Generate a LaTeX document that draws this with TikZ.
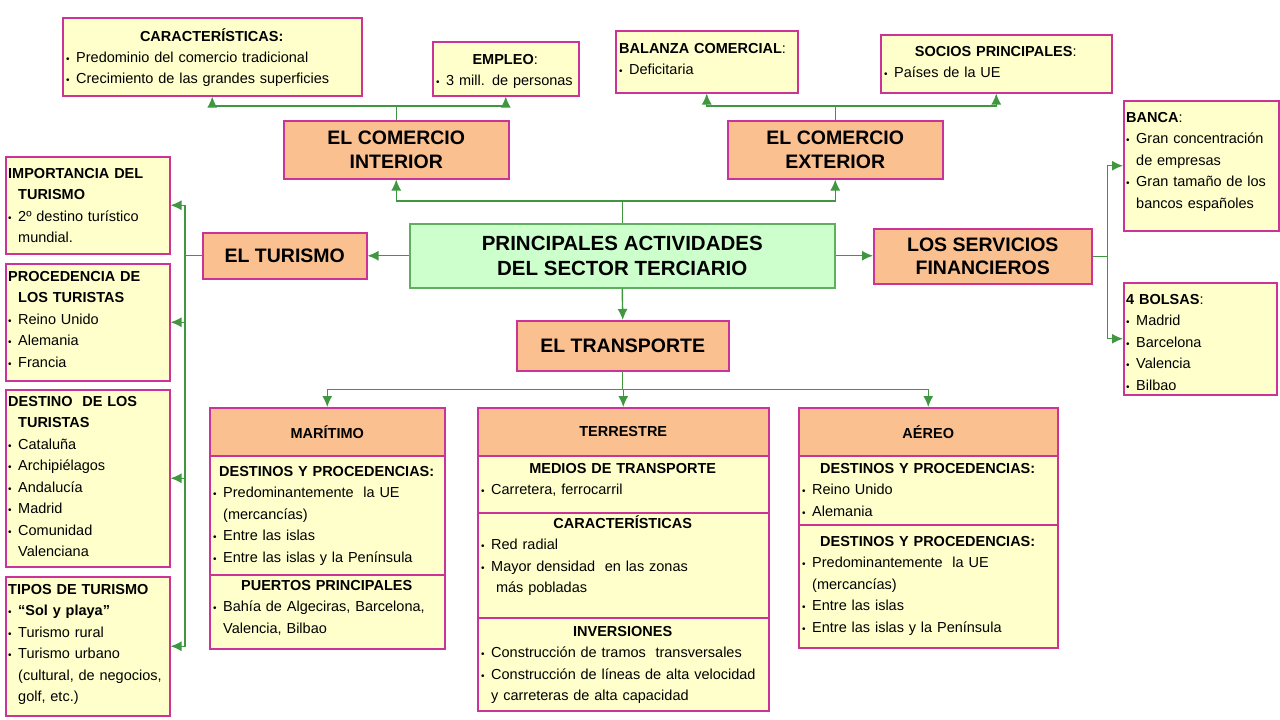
\documentclass[tikz,border=0pt]{standalone}
\usepackage{fontspec}
\setmainfont{Liberation Sans}
\usetikzlibrary{arrows.meta,positioning}
\definecolor{boxfill}{HTML}{FFFFCC}
\definecolor{boxline}{HTML}{CC3399}
\definecolor{orangefill}{HTML}{FAC090}
\definecolor{mainfill}{HTML}{CCFFCC}
\definecolor{mainline}{HTML}{5FAF5F}
\definecolor{linkgreen}{HTML}{3F973F}
\newcommand{\bul}{\makebox[10pt][l]{\fontsize{10}{10}\selectfont\textbullet}}
\newcommand{\ind}{\hspace*{10pt}}
\newcommand{\hd}[1]{\makebox[\linewidth]{\bfseries #1}}
\tikzset{
  infobox/.style={draw=boxline, fill=boxfill, line width=1.5pt, anchor=north west, inner sep=0pt},
  titlebox/.style={draw=boxline, fill=orangefill, line width=1.5pt, anchor=north west, inner sep=0pt,
    align=center, font=\fontsize{19.5}{23.5}\selectfont\bfseries},
  headbox/.style={titlebox, font=\fontsize{14.5}{17}\selectfont\bfseries},
  mainbox/.style={draw=mainline, fill=mainfill, line width=1.5pt, anchor=north west, inner sep=0pt,
    align=center, font=\fontsize{20.5}{25}\selectfont\bfseries},
  txt/.style={anchor=base west, inner sep=0pt, align=left, font=\fontsize{14.5}{21.5}\selectfont},
  link/.style={draw=linkgreen, line width=1.4pt},
  arr/.style={link, -{Latex[length=11pt,width=10pt]}}
}
\begin{document}
\begin{tikzpicture}[x=1pt,y=-1pt]
\useasboundingbox[fill=white] (0,0) rectangle (1280,720);

% centre and main branches
\node[mainbox, minimum width=425pt, minimum height=64pt] (centro) at (409,223) {PRINCIPALES ACTIVIDADES\\DEL SECTOR TERCIARIO};
\node[titlebox, minimum width=225pt, minimum height=58pt] (interior) at (283,120) {EL COMERCIO\\INTERIOR};
\node[titlebox, minimum width=215pt, minimum height=58pt] (exterior) at (727,120) {EL COMERCIO\\EXTERIOR};
\node[titlebox, minimum width=164pt, minimum height=46pt] (turismo) at (202,232) {EL TURISMO};
\node[titlebox, minimum width=218pt, minimum height=55pt] (servicios) at (873,228) {LOS SERVICIOS\\FINANCIEROS};
\node[titlebox, minimum width=212pt, minimum height=50pt] (transporte) at (516,320) {EL TRANSPORTE};

% comercio interior
\node[infobox, minimum width=299pt, minimum height=78pt] (caract) at (62,17) {};
\node[txt, text width=291pt] (caract-t) at (66,41) {\hd{CARACTERÍSTICAS:}\\
  \bul Predominio del comercio tradicional\\
  \bul Crecimiento de las grandes superficies};
\node[infobox, minimum width=146pt, minimum height=54pt] (empleo) at (432,41) {};
\node[txt, text width=138pt] (empleo-t) at (436,64) {\hd{EMPLEO{\mdseries:}}\\
  \bul 3 mill. de personas};

% comercio exterior
\node[infobox, minimum width=182pt, minimum height=62pt] (balanza) at (615,30) {};
\node[txt, text width=174pt] (balanza-t) at (619,53) {{\bfseries BALANZA COMERCIAL}:\\
  \bul Deficitaria};
\node[infobox, minimum width=231pt, minimum height=58pt] (socios) at (880,34) {};
\node[txt, text width=223pt] (socios-t) at (884,56) {\hd{SOCIOS PRINCIPALES{\mdseries:}}\\
  \bul Países de la UE};

% turismo
\node[infobox, minimum width=164pt, minimum height=97pt] (importancia) at (5,156) {};
\node[txt, text width=158pt] (importancia-t) at (8,178) {{\bfseries IMPORTANCIA DEL}\\
  \ind{\bfseries TURISMO}\\
  \bul 2º destino turístico\\
  \ind mundial.};
\node[infobox, minimum width=164pt, minimum height=117pt] (procedencia) at (5,263) {};
\node[txt, text width=158pt] (procedencia-t) at (8,281) {{\bfseries PROCEDENCIA DE}\\
  \ind{\bfseries LOS TURISTAS}\\
  \bul Reino Unido\\
  \bul Alemania\\
  \bul Francia};
\node[infobox, minimum width=164pt, minimum height=177pt] (destino) at (5,389) {};
\node[txt, text width=158pt] (destino-t) at (8,406) {{\bfseries DESTINO\ \ DE LOS}\\
  \ind{\bfseries TURISTAS}\\
  \bul Cataluña\\
  \bul Archipiélagos\\
  \bul Andalucía\\
  \bul Madrid\\
  \bul Comunidad\\
  \ind Valenciana};
\node[infobox, minimum width=164pt, minimum height=139pt] (tipos) at (5,576) {};
\node[txt, text width=158pt] (tipos-t) at (8,594) {{\bfseries TIPOS DE TURISMO}\\
  \bul{\bfseries “Sol y playa”}\\
  \bul Turismo rural\\
  \bul Turismo urbano\\
  \ind(cultural, de negocios,\\
  \ind golf, etc.)};

% servicios financieros
\node[infobox, minimum width=155pt, minimum height=130pt] (banca) at (1123,100) {};
\node[txt, text width=150pt] (banca-t) at (1126,122) {{\bfseries BANCA}:\\
  \bul Gran concentración\\
  \ind de empresas\\
  \bul Gran tamaño de los\\
  \ind bancos españoles};
\node[infobox, minimum width=153pt, minimum height=112pt] (bolsas) at (1123,282) {};
\node[txt, text width=148pt] (bolsas-t) at (1126,304) {{\bfseries 4 BOLSAS}:\\
  \bul Madrid\\
  \bul Barcelona\\
  \bul Valencia\\
  \bul Bilbao};

% transporte: maritimo
\node[headbox, minimum width=235pt, minimum height=48pt] (maritimo) at (209,407) {MARÍTIMO};
\node[infobox, minimum width=235pt, minimum height=119pt] (mar1) at (209,455) {};
\node[txt, text width=227pt] (mar1-t) at (213,476) {\hd{DESTINOS Y PROCEDENCIAS:}\\
  \bul Predominantemente\ \ la UE\\
  \ind(mercancías)\\
  \bul Entre las islas\\
  \bul Entre las islas y la Península};
\node[infobox, minimum width=235pt, minimum height=74pt] (mar2) at (209,574) {};
\node[txt, text width=227pt] (mar2-t) at (213,590) {\hd{PUERTOS PRINCIPALES}\\
  \bul Bahía de Algeciras, Barcelona,\\
  \ind Valencia, Bilbao};

% transporte: terrestre
\node[headbox, minimum width=291pt, minimum height=48pt] (terrestre) at (477,407) {TERRESTRE};
\node[infobox, minimum width=291pt, minimum height=57pt] (ter1) at (477,455) {};
\node[txt, text width=283pt] (ter1-t) at (481,473) {\hd{MEDIOS DE TRANSPORTE}\\
  \bul Carretera, ferrocarril};
\node[infobox, minimum width=291pt, minimum height=105pt] (ter2) at (477,512) {};
\node[txt, text width=283pt] (ter2-t) at (481,528) {\hd{CARACTERÍSTICAS}\\
  \bul Red radial\\
  \bul Mayor densidad\ \ en las zonas\\
  \ind\ más pobladas};
\node[infobox, minimum width=291pt, minimum height=93pt] (ter3) at (477,617) {};
\node[txt, text width=283pt] (ter3-t) at (481,636) {\hd{INVERSIONES}\\
  \bul Construcción de tramos\ \ transversales\\
  \bul Construcción de líneas de alta velocidad\\
  \ind y carreteras de alta capacidad};

% transporte: aereo
\node[headbox, minimum width=259pt, minimum height=48pt] (aereo) at (798,407) {AÉREO};
\node[infobox, minimum width=259pt, minimum height=69pt] (aer1) at (798,455) {};
\node[txt, text width=251pt] (aer1-t) at (802,473) {\hd{DESTINOS Y PROCEDENCIAS:}\\
  \bul Reino Unido\\
  \bul Alemania};
\node[infobox, minimum width=259pt, minimum height=123pt] (aer2) at (798,524) {};
\node[txt, text width=251pt] (aer2-t) at (802,546) {\hd{DESTINOS Y PROCEDENCIAS:}\\
  \bul Predominantemente\ \ la UE\\
  \ind(mercancías)\\
  \bul Entre las islas\\
  \bul Entre las islas y la Península};

% connectors
\draw[arr] (centro.north) -- ++(0,-22) -| (interior.south);
\draw[arr] (centro.north) ++(0,-22) -| (exterior.south);
\draw[arr] (centro.west) -- (centro.west -| turismo.east);
\draw[arr] (centro.east) -- (centro.east -| servicios.west);
\draw[arr] (centro.south) -- (transporte.north);
\draw[arr] (interior.north) -- ++(0,-14) -| (caract.south);
\draw[arr] (interior.north) ++(0,-14) -| (empleo.south);
\draw[arr] (exterior.north) -- ++(0,-14) -| (balanza.south);
\draw[arr] (exterior.north) ++(0,-14) -| (socios.south);
\draw[link] (turismo.west) -- ++(-17,0) coordinate (tx);
\foreach \b in {importancia,procedencia,destino,tipos}
  \draw[arr] (tx) |- (\b.east);
\draw[link] (servicios.east) -- ++(15,0) coordinate (sx);
\foreach \b in {banca,bolsas}
  \draw[arr] (sx) |- (\b.west);
\draw[link] (transporte.south) -- ++(0,18) coordinate (rx);
\foreach \b in {maritimo,terrestre,aereo}
  \draw[arr] (rx) -| (\b.north);
\end{tikzpicture}
\end{document}
